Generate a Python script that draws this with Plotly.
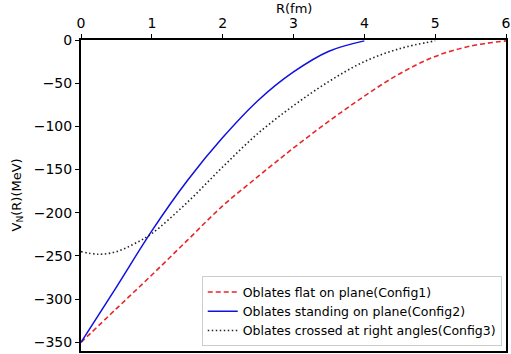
import plotly.graph_objects as go

# Config1: oblates flat on plane
r1 = [0, 0.5, 1, 1.5, 2, 2.5, 3, 3.5, 4, 4.5, 5, 5.5, 6]
v1 = [-350, -311, -272, -232, -192, -158, -125, -94, -65, -39, -19, -7, -1]

# Config2: oblates standing on plane
r2 = [0, 0.5, 1, 1.5, 2, 2.5, 3, 3.5, 4]
v2 = [-350, -286, -221, -163, -113, -70, -37, -13, -1]

# Config3: oblates crossed at right angles
r3 = [0, 0.25, 0.5, 0.75, 1, 1.5, 2, 2.5, 3, 3.5, 4, 4.5, 5]
v3 = [-245, -248, -245, -236, -224, -188, -147, -108, -76, -48, -25, -10, -1]

names = ["Oblates flat on plane(Config1)",
         "Oblates standing on plane(Config2)",
         "Oblates crossed at right angles(Config3)"]

x_ticks = [0, 1, 2, 3, 4, 5, 6]
y_ticks = [0, -50, -100, -150, -200, -250, -300, -350]

fig = go.Figure()
fig.add_trace(go.Scatter(x=r1, y=v1, mode="lines", name=names[0],
                         line=dict(color="#e8262a", dash="5px,3px", width=1.6, shape="spline")))
fig.add_trace(go.Scatter(x=r2, y=v2, mode="lines", name=names[1],
                         line=dict(color="#1010e0", width=1.5, shape="spline")))
fig.add_trace(go.Scatter(x=r3, y=v3, mode="lines", name=names[2],
                         line=dict(color="#222222", dash="1.5px,2.5px", width=1.6, shape="spline")))

fig.update_layout(
    width=511, height=354,
    margin=dict(l=81, r=5, t=40, b=3),
    paper_bgcolor="white", plot_bgcolor="white",
    font=dict(family="DejaVu Sans", color="black"),
    legend=dict(x=0.99, y=0.015, xanchor="right", yanchor="bottom",
                bgcolor="white", bordercolor="#cccccc", borderwidth=1,
                font=dict(size=12.5), tracegroupgap=0, itemwidth=30),
    xaxis=dict(range=[0, 6], side="top", tickvals=x_ticks, automargin=False,
               ticks="outside", ticklen=4, tickcolor="black",
               showline=True, linecolor="black", linewidth=2, mirror=True,
               showgrid=False, zeroline=False, tickfont=dict(size=14)),
    yaxis=dict(range=[-360, 0], tickvals=y_ticks, automargin=False,
               ticktext=["0", "\u221250", "\u2212100", "\u2212150", "\u2212200",
                         "\u2212250", "\u2212300", "\u2212350"],
               ticks="outside", ticklen=4, tickcolor="black",
               showline=True, linecolor="black", linewidth=2, mirror=True,
               showgrid=False, zeroline=False, tickfont=dict(size=14)),
    annotations=[
        dict(text="R(fm)", xref="paper", yref="paper", x=0.5, y=1,
             yshift=32, xanchor="center", yanchor="middle", showarrow=False,
             font=dict(size=13)),
        dict(text="V<sub>N</sub>(R)(MeV)", xref="paper", yref="paper", x=0,
             y=0.5, xshift=-64, xanchor="center", yanchor="middle",
             textangle=-90, showarrow=False, font=dict(size=13)),
    ],
)

fig.write_html("out.html",
               config={"displayModeBar": False},
               post_script="document.body.style.margin='0';document.body.style.overflow='hidden';")
